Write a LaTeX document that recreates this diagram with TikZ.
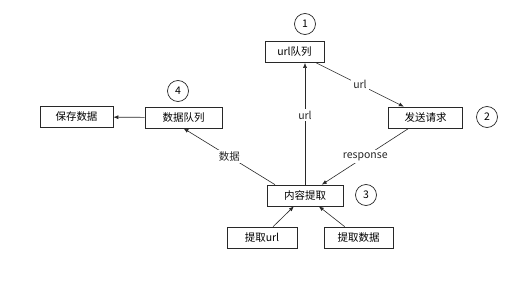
\documentclass[tikz,border=0pt]{standalone}
\usepackage{fontspec}
\setmainfont{Noto Sans CJK SC}
\usepackage{tikz}
\usetikzlibrary{arrows.meta,calc}
\definecolor{mygray}{RGB}{40,40,40}

\begin{document}
\begin{tikzpicture}[x=1pt,y=-1pt,font=\fontsize{10.5}{12}\selectfont,
  box/.style={draw=mygray, line width=0.7pt, minimum width=74pt, minimum height=21pt, inner sep=0pt},
  num/.style={draw=mygray, circle, line width=0.7pt, minimum size=21pt, inner sep=0pt},
  conn/.style={-{Latex[length=5pt,width=4pt]}, mygray, line width=0.6pt},
  lbl/.style={fill=white, inner sep=2pt}]

\useasboundingbox (0,0) rectangle (520,281);

\node[box, minimum width=59pt] (urlq) at (294.5,52) {url队列};
\node[box] (send) at (425.5,117.5) {发送请求};
\node[box, minimum width=73pt] (save) at (76.5,117) {保存数据};
\node[box, minimum width=77pt] (dataq) at (183.5,117.5) {数据队列};
\node[box, minimum width=76pt] (extract) at (305,195.5) {内容提取};
\node[box, minimum width=70pt] (geturl) at (262,237.5) {提取url};
\node[box, minimum width=69pt] (getdata) at (358.5,237.5) {提取数据};

\foreach \n/\x/\y in {1/305/24, 2/487/117, 3/366/195, 4/178/91}{
  \node[num] (c\n) at (\x,\y) {\n};
}

\draw[conn] (urlq) -- node[lbl] {url} (send);
\draw[conn] (send) -- node[lbl] {response} (extract);
\draw[conn] (extract.north) -- node[lbl, pos=0.57] {url} (extract.north |- urlq.south);
\draw[conn] ([xshift=-30pt]extract.north) -- node[lbl] {数据} (dataq.south);
\draw[conn] (dataq) -- (save);
\draw[conn] (geturl) -- (extract);
\draw[conn] (getdata) -- (extract);

\end{tikzpicture}
\end{document}
